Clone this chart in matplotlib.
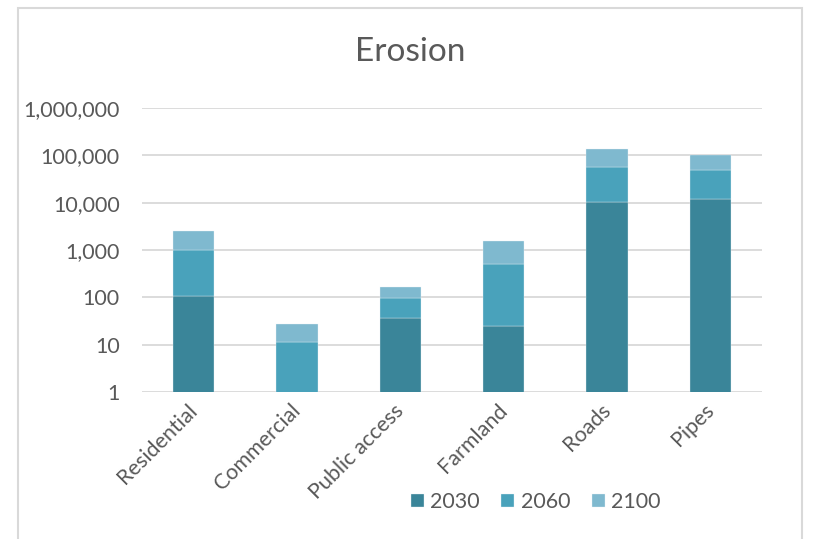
"""
Stacked erosion totals per asset class, log scale
"""

import numpy as np
import matplotlib.pyplot as plt
from matplotlib.patches import Rectangle
from matplotlib.ticker import FixedLocator, FuncFormatter, NullLocator
from matplotlib.transforms import ScaledTranslation

plt.rcParams['font.family'] = ['Lato', 'DejaVu Sans']

# ---------- Data ----------
categories = ["Residential", "Commercial", "Public access", "Farmland", "Roads", "Pipes"]
years = ["2030", "2060", "2100"]

# increment added in each period (stacked)
erosion_2030 = [105, 0, 36, 25, 10200, 11800]
erosion_2060 = [895, 11.6, 62, 475, 47800, 36200]
erosion_2100 = [1500, 16.4, 68, 1080, 81000, 52000]

y_ticks = [1, 10, 100, 1000, 10000, 100000, 1000000]

colors = ["#3a8599", "#49a2bb", "#7fb9cf"]
text_col = "#595959"
grid_col = "#d9d9d9"

# ---------- Plot ----------
fig = plt.figure(figsize=(8.13, 5.39), dpi=100)
ax = fig.add_axes([0.1747, 0.2727, 0.7626, 0.527])

x = np.arange(len(categories))
bottom = np.zeros(len(categories))
for year, vals, col in zip(years, [erosion_2030, erosion_2060, erosion_2100], colors):
    vals = np.array(vals, dtype=float)
    ax.bar(x, vals, width=0.4, bottom=bottom, color=col, label=year,
           edgecolor="#e8f2f5", linewidth=0.25, zorder=3)
    bottom = bottom + vals

ax.set_yscale("log")
ax.set_ylim(1, 1e6)
ax.set_xlim(-0.5, len(categories) - 0.5)
ax.yaxis.set_major_locator(FixedLocator(y_ticks))
ax.yaxis.set_minor_locator(NullLocator())
ax.yaxis.set_major_formatter(FuncFormatter(lambda v, p: f"{v:,.0f}"))
ax.grid(axis="y", color=grid_col, linewidth=1.3, zorder=0)

for s in ax.spines.values():
    s.set_visible(False)
ax.tick_params(axis="both", length=0, labelsize=15.5, colors=text_col)
ax.tick_params(axis="y", pad=16)
ax.tick_params(axis="x", pad=6)

ax.set_xticks(x)
ax.set_xticklabels(categories, rotation=45, ha="right", va="top",
                   rotation_mode="anchor")
shift = ScaledTranslation(-7 / 100, 0, fig.dpi_scale_trans)
for lab in ax.get_xticklabels():
    lab.set_transform(lab.get_transform() + shift)

fig.text(0.505, 0.9035, "Erosion", ha="center", va="center",
         fontsize=24, color=text_col)

leg = fig.legend(loc="center", bbox_to_anchor=(0.659, 0.0686), ncol=3,
                 frameon=False, fontsize=15.5, handlelength=0.6,
                 handleheight=0.6, handletextpad=0.3, columnspacing=1.0,
                 labelcolor=text_col)

# chart outline
fig.patches.append(Rectangle((18 / 813, -0.05), 784 / 813, 1.05 - 8 / 539,
                             transform=fig.transFigure, fill=False,
                             edgecolor=grid_col, linewidth=1.5))

plt.savefig("out.png", dpi=100)
plt.close()
